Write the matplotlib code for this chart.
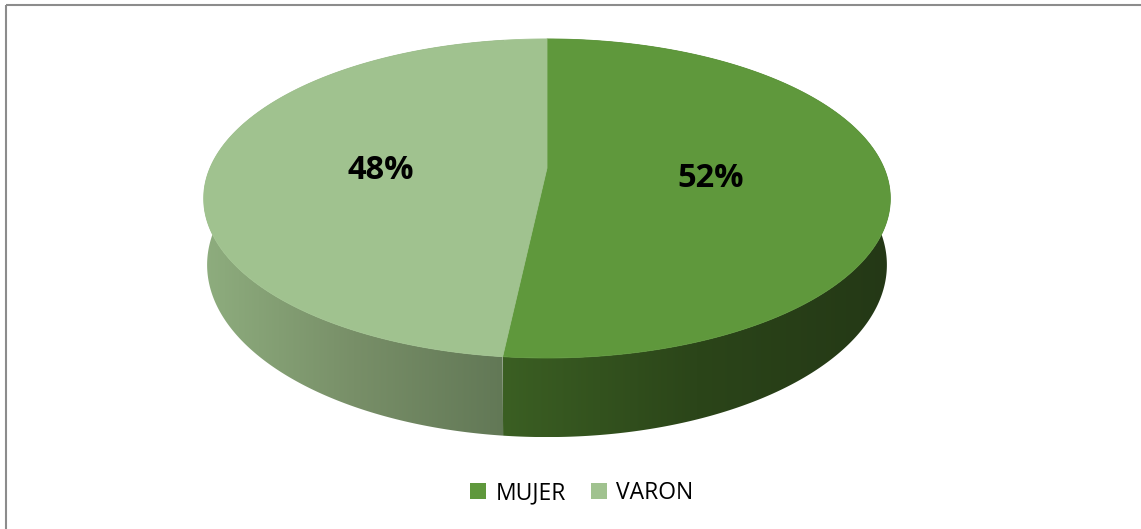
import numpy as np
import matplotlib
matplotlib.use("Agg")
import matplotlib.pyplot as plt
from matplotlib.patches import Polygon, Rectangle
from matplotlib.colors import LinearSegmentedColormap

# data
labels = ["MUJER", "VARON"]
shares = [51.7, 48.3]          # shown rounded as 52% / 48%
top_colors = ["#5F983C", "#A0C28F"]
wall_colors = [["#3B5F23", "#2B4519", "#243816"],
               ["#8EAD7E", "#788F68", "#627856"]]

# fake 3d projection (pixel space of the figure)
CX, CY = 547.0, 168.0
A, B = 337.0, 153.7
K = 0.191       # perspective strength
D = 64.0        # pie thickness
SHRINK = 0.01   # bottom face a bit smaller


def project(theta, h=0.0):
    u, v = np.sin(theta), np.cos(theta)
    den = 1.0 + K * v
    s = 1.0 - SHRINK * h
    x = CX + A * s * u / den
    y = CY - (B * v - D * h) / den
    return x, y


fig = plt.figure(figsize=(11.41, 5.29), dpi=100)
ax = fig.add_axes([0, 0, 1, 1])
ax.set_xlim(0, 1141)
ax.set_ylim(529, 0)
ax.axis("off")

fracs = np.array(shares) / sum(shares)
starts = np.concatenate([[0.0], np.cumsum(fracs)[:-1]]) * 2 * np.pi
ends = np.cumsum(fracs) * 2 * np.pi

# side walls with a horizontal gradient
for t0, t1, cols in zip(starts, ends, wall_colors):
    th = np.linspace(t0, t1, 300)
    xt, yt = project(th, 0.0)
    xb, yb = project(th[::-1], 1.0)
    pts = np.column_stack([np.concatenate([xt, xb]), np.concatenate([yt, yb])])
    poly = Polygon(pts, closed=True, facecolor="none", edgecolor="none")
    ax.add_patch(poly)
    # only the front part is visible, gradient over its x range
    front = np.cos(th) < 0
    xs = np.concatenate([xt[front], xb[::-1][front]]) if front.any() else xt
    x0, x1 = xs.min(), xs.max()
    cmap = LinearSegmentedColormap.from_list("w", cols)
    grad = np.linspace(0, 1, 256)[None, :]
    im = ax.imshow(grad, cmap=cmap, aspect="auto", interpolation="bilinear",
                   extent=(x0, x1, pts[:, 1].max(), pts[:, 1].min()), zorder=1)
    im.set_clip_path(poly)

# top faces
for t0, t1, col in zip(starts, ends, top_colors):
    th = np.linspace(t0, t1, 300)
    xt, yt = project(th, 0.0)
    pts = np.column_stack([np.concatenate([[CX], xt]), np.concatenate([[CY], yt])])
    ax.add_patch(Polygon(pts, closed=True, facecolor=col, edgecolor=col,
                         lw=0.6, zorder=2))

# percentage labels
for t0, t1, val in zip(starts, ends, shares):
    mid = (t0 + t1) / 2
    lx, ly = project(mid, 0.0)
    lx = CX + (lx - CX) * 0.49 - 3
    ly = CY + (ly - CY) * 0.49 + 6
    ax.text(lx, ly, f"{val:.0f}%", ha="center", va="center",
            fontsize=23.5, fontweight="bold", family="Open Sans", color="black",
            zorder=3)

# chart border: only top and left edges are inside the picture
ax.plot([5.5, 1141], [4.5, 4.5], color="#8C8C8C", lw=1.5, zorder=0,
        solid_capstyle="butt")
ax.plot([5.5, 5.5], [4.5, 529], color="#8C8C8C", lw=1.5, zorder=0,
        solid_capstyle="butt")

handles = [Rectangle((0, 0), 1, 1, facecolor=c, edgecolor="none") for c in top_colors]
fig.legend(handles, labels, loc="center", bbox_to_anchor=(0.51, 0.068),
           ncol=2, frameon=False, handlelength=0.7, handleheight=0.7,
           handletextpad=0.4, columnspacing=1.1,
           prop={"family": "Open Sans", "size": 16.5})

fig.savefig("out.png", dpi=100)
